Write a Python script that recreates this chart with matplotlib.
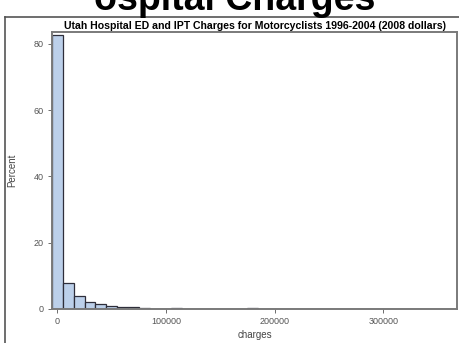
import numpy as np
import matplotlib
matplotlib.use("Agg")
import matplotlib.pyplot as plt
from matplotlib.lines import Line2D

# histogram of charges, bins of 10000 centred on multiples of 10000
bin_width = 10000
bin_mids = np.arange(0, 370000, bin_width)
percent = [82.7, 7.8, 3.9, 2.1, 1.4, 1.0, 0.7, 0.55, 0.45, 0.15,
           0.1, 0.4, 0.05, 0.03, 0.02, 0.02, 0.0, 0.02, 0.4, 0.0,
           0.0, 0.0, 0.0, 0.0, 0.0, 0.0, 0.0, 0.0, 0.0, 0.0,
           0.0, 0.0, 0.0, 0.0, 0.0, 0.0, 0.0]
x_ticks = [0, 100000, 200000, 300000]
y_ticks = [0, 20, 40, 60, 80]

plt.rcParams["font.family"] = ["Liberation Sans", "DejaVu Sans"]

fig = plt.figure(figsize=(4.59, 3.43), dpi=100)
ax = fig.add_axes([52 / 459, 1 - 309 / 343, 405 / 459, 277 / 343])

ax.bar(bin_mids, percent, width=bin_width, color="#bcd0ea",
       edgecolor="#2e2e3a", linewidth=0.9, align="center")

ax.set_xlim(-5000, 368000)
ax.set_ylim(0, 83.6)
ax.set_xticks(x_ticks)
ax.set_xticklabels([str(t) for t in x_ticks])
ax.set_yticks(y_ticks)
ax.tick_params(labelsize=6.5, colors="#555555", length=3, width=0.6, pad=3)
for s in ax.spines.values():
    s.set_color("#7a7a7a")
    s.set_linewidth(1.4)

ax.set_xlabel("charges", fontsize=7, color="#444444", labelpad=3)
ax.set_ylabel("Percent", fontsize=7, color="#444444", labelpad=12)
ax.set_title("Utah Hospital ED and IPT Charges for Motorcyclists 1996-2004 (2008 dollars)",
             fontsize=7.6, fontweight="bold", pad=2, x=0.5)

# slide frame and cropped slide heading
fig.add_artist(Line2D([5 / 459, 5 / 459], [0, 1 - 17 / 343], color="#555555", lw=1.2))
fig.add_artist(Line2D([5 / 459, 1], [1 - 17 / 343, 1 - 17 / 343], color="#555555", lw=1.2))
fig.text(235 / 459, 1 - 10 / 343, "ospital Charges", fontsize=27, fontweight="bold",
         ha="center", va="baseline", color="black")

fig.savefig("out.png", dpi=100)
